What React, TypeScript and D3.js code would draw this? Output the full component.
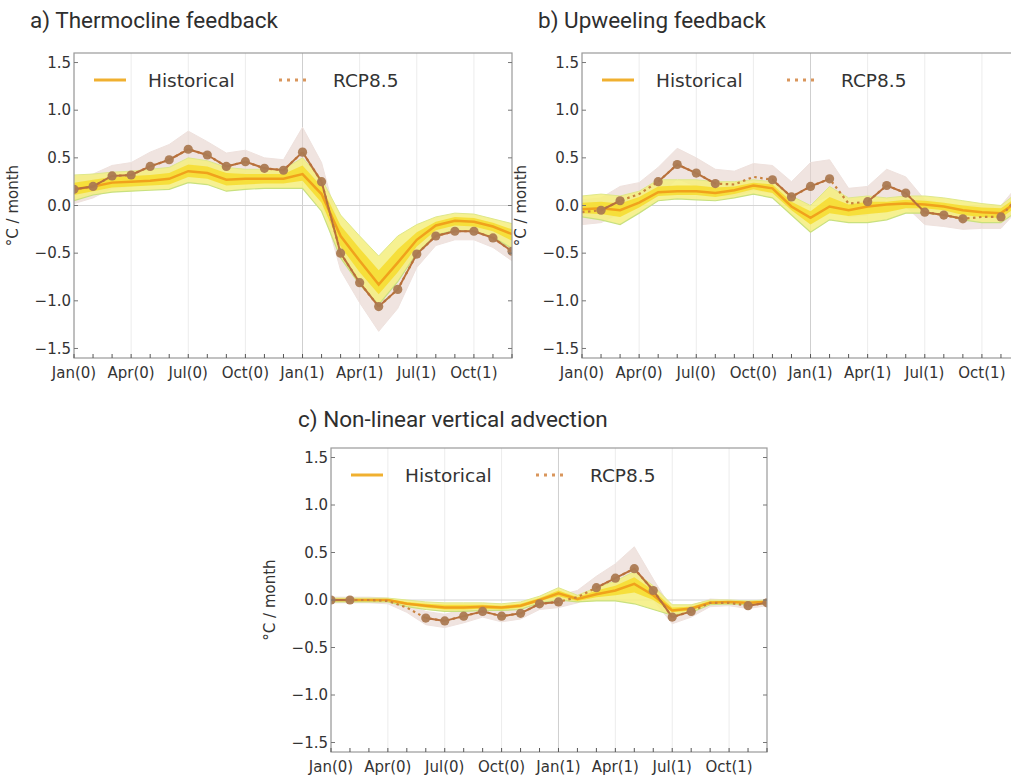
import React from 'react';
import * as d3 from 'd3';

// ---------- shared axis data ----------
const monthIdx = [0, 1, 2, 3, 4, 5, 6, 7, 8, 9, 10, 11, 12, 13, 14, 15, 16, 17, 18, 19, 20, 21, 22, 23];
const tickMonths = [0, 3, 6, 9, 12, 15, 18, 21];
const tickLabels = ['Jan(0)', 'Apr(0)', 'Jul(0)', 'Oct(0)', 'Jan(1)', 'Apr(1)', 'Jul(1)', 'Oct(1)'];
const yTicks = [-1.5, -1.0, -0.5, 0.0, 0.5, 1.0, 1.5];
const seriesNames = ['Historical', 'RCP8.5'];

// ---------- a) Thermocline feedback ----------
const aHist = [0.17, 0.2, 0.24, 0.25, 0.26, 0.28, 0.36, 0.34, 0.27, 0.28, 0.28, 0.28, 0.33, 0.12, -0.32, -0.58, -0.83, -0.6, -0.36, -0.21, -0.16, -0.17, -0.22, -0.3];
const aHistLo = [0.05, 0.11, 0.14, 0.15, 0.16, 0.17, 0.24, 0.22, 0.15, 0.17, 0.18, 0.18, 0.18, -0.06, -0.55, -0.83, -1.04, -0.8, -0.5, -0.31, -0.26, -0.27, -0.33, -0.45];
const aHistHi = [0.32, 0.33, 0.35, 0.36, 0.38, 0.4, 0.5, 0.47, 0.4, 0.38, 0.38, 0.38, 0.5, 0.28, -0.1, -0.32, -0.53, -0.32, -0.2, -0.12, -0.08, -0.09, -0.14, -0.19];
const aHistInLo = [0.11, 0.15, 0.19, 0.2, 0.21, 0.22, 0.3, 0.28, 0.21, 0.22, 0.23, 0.23, 0.26, 0.03, -0.43, -0.7, -0.93, -0.7, -0.43, -0.26, -0.21, -0.22, -0.27, -0.37];
const aHistInHi = [0.24, 0.27, 0.3, 0.31, 0.32, 0.34, 0.43, 0.41, 0.34, 0.33, 0.33, 0.33, 0.42, 0.2, -0.21, -0.45, -0.68, -0.46, -0.28, -0.17, -0.12, -0.13, -0.18, -0.25];
const aRcp = [0.17, 0.2, 0.31, 0.32, 0.41, 0.48, 0.59, 0.53, 0.41, 0.46, 0.39, 0.37, 0.56, 0.25, -0.5, -0.81, -1.06, -0.88, -0.51, -0.32, -0.27, -0.27, -0.34, -0.48];
const aRcpLo = [0.02, 0.08, 0.18, 0.2, 0.28, 0.34, 0.44, 0.4, 0.3, 0.34, 0.28, 0.26, 0.36, 0.05, -0.68, -1.02, -1.32, -1.08, -0.65, -0.42, -0.36, -0.36, -0.44, -0.58];
const aRcpHi = [0.3, 0.33, 0.42, 0.45, 0.56, 0.64, 0.78, 0.67, 0.55, 0.58, 0.5, 0.48, 0.82, 0.45, -0.3, -0.6, -0.82, -0.68, -0.38, -0.22, -0.18, -0.18, -0.24, -0.36];
const aSig = [1, 1, 1, 1, 1, 1, 1, 1, 1, 1, 1, 1, 1, 1, 1, 1, 1, 1, 1, 1, 1, 1, 1, 1];

// ---------- b) Upweeling feedback ----------
const bHist = [-0.04, -0.03, -0.05, 0.03, 0.14, 0.15, 0.15, 0.13, 0.16, 0.21, 0.18, -0.01, -0.13, -0.01, -0.05, -0.01, 0.01, 0.02, 0.01, -0.01, -0.05, -0.07, -0.08, 0.06];
const bHistLo = [-0.12, -0.15, -0.2, -0.08, 0.05, 0.07, 0.06, 0.05, 0.08, 0.12, 0.08, -0.1, -0.28, -0.15, -0.18, -0.18, -0.15, -0.08, -0.08, -0.1, -0.15, -0.18, -0.18, -0.04];
const bHistHi = [0.1, 0.12, 0.1, 0.15, 0.27, 0.27, 0.27, 0.25, 0.25, 0.27, 0.25, 0.1, 0.0, 0.2, 0.08, 0.1, 0.08, 0.1, 0.1, 0.08, 0.05, 0.02, 0.0, 0.16];
const bHistInLo = [-0.08, -0.09, -0.12, -0.02, 0.1, 0.11, 0.11, 0.09, 0.12, 0.17, 0.13, -0.05, -0.2, -0.08, -0.11, -0.09, -0.07, -0.03, -0.03, -0.05, -0.1, -0.12, -0.13, 0.01];
const bHistInHi = [0.03, 0.04, 0.02, 0.09, 0.2, 0.21, 0.21, 0.19, 0.2, 0.24, 0.22, 0.04, -0.06, 0.09, 0.01, 0.04, 0.04, 0.06, 0.05, 0.03, 0.0, -0.02, -0.03, 0.11];
const bRcp = [-0.07, -0.05, 0.05, 0.12, 0.25, 0.43, 0.34, 0.23, 0.22, 0.3, 0.27, 0.09, 0.2, 0.28, 0.02, 0.04, 0.21, 0.13, -0.07, -0.1, -0.14, -0.12, -0.12, 0.12];
const bRcpLo = [-0.2, -0.18, -0.08, -0.02, 0.1, 0.28, 0.2, 0.1, 0.1, 0.16, 0.13, -0.04, 0.02, 0.1, -0.12, -0.1, 0.06, -0.01, -0.2, -0.22, -0.25, -0.24, -0.24, -0.02];
const bRcpHi = [0.06, 0.08, 0.2, 0.24, 0.4, 0.6, 0.5, 0.38, 0.36, 0.44, 0.42, 0.25, 0.45, 0.48, 0.18, 0.2, 0.38, 0.3, 0.06, 0.02, -0.02, 0.0, 0.0, 0.24];
const bSig = [0, 1, 1, 0, 1, 1, 1, 1, 0, 0, 1, 1, 1, 1, 0, 1, 1, 1, 1, 1, 1, 0, 1, 0];

// ---------- c) Non-linear vertical advection ----------
const cHist = [0.0, 0.0, 0.0, 0.0, -0.04, -0.06, -0.08, -0.08, -0.07, -0.08, -0.06, 0.0, 0.07, 0.01, 0.06, 0.1, 0.17, 0.05, -0.11, -0.09, -0.03, -0.02, -0.03, -0.02];
const cHistLo = [-0.02, -0.02, -0.02, -0.02, -0.07, -0.1, -0.12, -0.12, -0.11, -0.11, -0.1, -0.03, 0.0, -0.02, -0.01, -0.01, -0.04, -0.1, -0.16, -0.13, -0.05, -0.04, -0.05, -0.04];
const cHistHi = [0.02, 0.02, 0.02, 0.02, 0.0, -0.02, -0.03, -0.03, -0.03, -0.04, -0.02, 0.04, 0.13, 0.05, 0.13, 0.2, 0.3, 0.15, -0.05, -0.05, 0.0, 0.0, -0.01, 0.0];
const cHistInLo = [-0.01, -0.01, -0.01, -0.01, -0.05, -0.08, -0.1, -0.1, -0.09, -0.1, -0.08, -0.01, 0.04, -0.01, 0.03, 0.05, 0.08, 0.0, -0.13, -0.11, -0.04, -0.03, -0.04, -0.03];
const cHistInHi = [0.01, 0.01, 0.01, 0.01, -0.02, -0.04, -0.05, -0.05, -0.05, -0.06, -0.04, 0.02, 0.1, 0.03, 0.1, 0.15, 0.24, 0.1, -0.08, -0.07, -0.01, -0.01, -0.02, -0.01];
const cRcp = [0.0, 0.0, 0.0, -0.01, -0.08, -0.19, -0.22, -0.17, -0.12, -0.17, -0.14, -0.04, -0.02, 0.03, 0.13, 0.23, 0.33, 0.1, -0.18, -0.12, -0.03, -0.03, -0.06, -0.03];
const cRcpLo = [-0.03, -0.03, -0.03, -0.04, -0.13, -0.26, -0.29, -0.24, -0.18, -0.23, -0.2, -0.1, -0.08, -0.03, 0.05, 0.12, 0.18, 0.0, -0.25, -0.18, -0.07, -0.06, -0.09, -0.06];
const cRcpHi = [0.03, 0.03, 0.03, 0.02, -0.03, -0.12, -0.15, -0.1, -0.06, -0.1, -0.08, 0.02, 0.05, 0.1, 0.25, 0.38, 0.56, 0.22, -0.1, -0.06, 0.01, 0.0, -0.03, 0.0];
const cSig = [1, 1, 0, 0, 0, 1, 1, 1, 1, 1, 1, 1, 1, 0, 1, 1, 1, 1, 1, 1, 0, 0, 1, 1];

type PanelProps = {
  id: string;
  title: string;
  titleX: number;
  titleY: number;
  left: number;
  top: number;
  w: number;
  h: number;
  hist: number[];
  histLo: number[];
  histHi: number[];
  histInLo: number[];
  histInHi: number[];
  rcp: number[];
  rcpLo: number[];
  rcpHi: number[];
  sig: number[];
};

const TICK_FONT = '"DejaVu Sans", sans-serif';

function Panel(p: PanelProps) {
  const x = d3.scaleLinear().domain([0, 23]).range([p.left, p.left + p.w]);
  const y = d3.scaleLinear().domain([-1.6, 1.6]).range([p.top + p.h, p.top]);
  const bottom = p.top + p.h;
  const right = p.left + p.w;

  const band = (lo: number[], hi: number[]) =>
    d3.area<number>().x((i) => x(i)).y0((i) => y(lo[i])).y1((i) => y(hi[i]))(monthIdx) || '';
  const line = (v: number[]) => d3.line<number>().x((i) => x(i)).y((i) => y(v[i]))(monthIdx) || '';

  const segs: number[][] = [];
  for (let i = 0; i < 23; i++) if (p.sig[i] && p.sig[i + 1]) segs.push([i, i + 1]);
  const segLine = d3.line<number>().x((i) => x(i)).y((i) => y(p.rcp[i]));

  const clipId = `clip-${p.id}`;
  return (
    <g>
      <defs>
        <clipPath id={clipId}>
          <rect x={p.left} y={p.top} width={p.w} height={p.h} />
        </clipPath>
      </defs>
      <text x={p.titleX} y={p.titleY} fontFamily="Roboto, sans-serif" fontSize={22.5} fill="#2e2e2e">
        {p.title}
      </text>
      {tickMonths.map((m) => (
        <line key={'g' + m} x1={x(m)} x2={x(m)} y1={p.top} y2={bottom} stroke={m === 12 ? '#cfcfcf' : '#ececec'} strokeWidth={1} />
      ))}
      <line x1={p.left} x2={right} y1={y(0)} y2={y(0)} stroke="#d4d4d4" strokeWidth={1} />
      <g clipPath={`url(#${clipId})`}>
        <path d={band(p.rcpLo, p.rcpHi)} fill="#e6d2cb" fillOpacity={0.6} stroke="#efe2de" strokeWidth={1} />
        <path d={band(p.histLo, p.histHi)} fill="#f4ee7e" fillOpacity={0.85} />
        <path d={line(p.histLo)} fill="none" stroke="#c9e07e" strokeWidth={1.2} />
        <path d={line(p.histHi)} fill="none" stroke="#dfe88a" strokeWidth={1} />
        <path d={band(p.histInLo, p.histInHi)} fill="#f6dc2c" fillOpacity={0.85} />
        <path d={line(p.hist)} fill="none" stroke="#f0a21c" strokeWidth={2.5} />
        <path d={line(p.rcp)} fill="none" stroke="#c9823d" strokeWidth={2.2} strokeDasharray="2.5,3.5" />
        {segs.map((s, k) => (
          <path key={'s' + k} d={segLine(s) || ''} fill="none" stroke="#b8703c" strokeWidth={2} />
        ))}
        {monthIdx.filter((i) => p.sig[i]).map((i) => (
          <circle key={'m' + i} cx={x(i)} cy={y(p.rcp[i])} r={4.6} fill="#ab7a52" fillOpacity={0.95} />
        ))}
      </g>
      <rect x={p.left} y={p.top} width={p.w} height={p.h} fill="none" stroke="#9a9a9a" strokeWidth={1.2} />
      {yTicks.map((t) => (
        <g key={'y' + t}>
          <line x1={p.left} x2={p.left + 4} y1={y(t)} y2={y(t)} stroke="#777" strokeWidth={1} />
          <line x1={right - 4} x2={right} y1={y(t)} y2={y(t)} stroke="#777" strokeWidth={1} />
          <text x={p.left - 3} y={y(t)} dy="0.35em" textAnchor="end" fontFamily={TICK_FONT} fontSize={15} fill="#333">
            {d3.format('.1f')(t).replace('-', '\u2212')}
          </text>
        </g>
      ))}
      {monthIdx.map((m) => (
        <line key={'x' + m} x1={x(m)} x2={x(m)} y1={bottom} y2={bottom - 4} stroke="#555" strokeWidth={1} />
      ))}
      {tickMonths.map((m, k) => (
        <text key={'xl' + m} x={x(m)} y={bottom + 20} textAnchor="middle" fontFamily={TICK_FONT} fontSize={15} fill="#333">
          {tickLabels[k]}
        </text>
      ))}
      <text
        transform={`translate(${p.left - 56},${y(0)}) rotate(-90)`}
        textAnchor="middle"
        fontFamily={TICK_FONT}
        fontSize={15}
        fill="#333"
      >
        °C / month
      </text>
      <line x1={p.left + 20} x2={p.left + 52} y1={p.top + 27} y2={p.top + 27} stroke="#f0b030" strokeWidth={3} />
      <text x={p.left + 74} y={p.top + 34} fontFamily={TICK_FONT} fontSize={18.5} fill="#333">
        {seriesNames[0]}
      </text>
      <line x1={p.left + 205} x2={p.left + 234} y1={p.top + 27} y2={p.top + 27} stroke="#d9965c" strokeWidth={3} strokeDasharray="3,5" />
      <text x={p.left + 259} y={p.top + 34} fontFamily={TICK_FONT} fontSize={18.5} fill="#333">
        {seriesNames[1]}
      </text>
    </g>
  );
}

export default function App() {
  return (
    <svg width={1011} height={780} style={{ position: 'absolute', left: 0, top: 0, background: '#fff' }}>
      <rect x={0} y={0} width={1011} height={780} fill="#fff" />
      <Panel id="a" title="a) Thermocline feedback" titleX={30} titleY={28} left={74} top={53} w={438} h={305}
        hist={aHist} histLo={aHistLo} histHi={aHistHi} histInLo={aHistInLo} histInHi={aHistInHi}
        rcp={aRcp} rcpLo={aRcpLo} rcpHi={aRcpHi} sig={aSig} />
      <Panel id="b" title="b) Upweeling feedback" titleX={538} titleY={28} left={582} top={53} w={438} h={305}
        hist={bHist} histLo={bHistLo} histHi={bHistHi} histInLo={bHistInLo} histInHi={bHistInHi}
        rcp={bRcp} rcpLo={bRcpLo} rcpHi={bRcpHi} sig={bSig} />
      <Panel id="c" title="c) Non-linear vertical advection" titleX={298} titleY={427} left={331} top={448} w={436} h={304}
        hist={cHist} histLo={cHistLo} histHi={cHistHi} histInLo={cHistInLo} histInHi={cHistInHi}
        rcp={cRcp} rcpLo={cRcpLo} rcpHi={cRcpHi} sig={cSig} />
    </svg>
  );
}
